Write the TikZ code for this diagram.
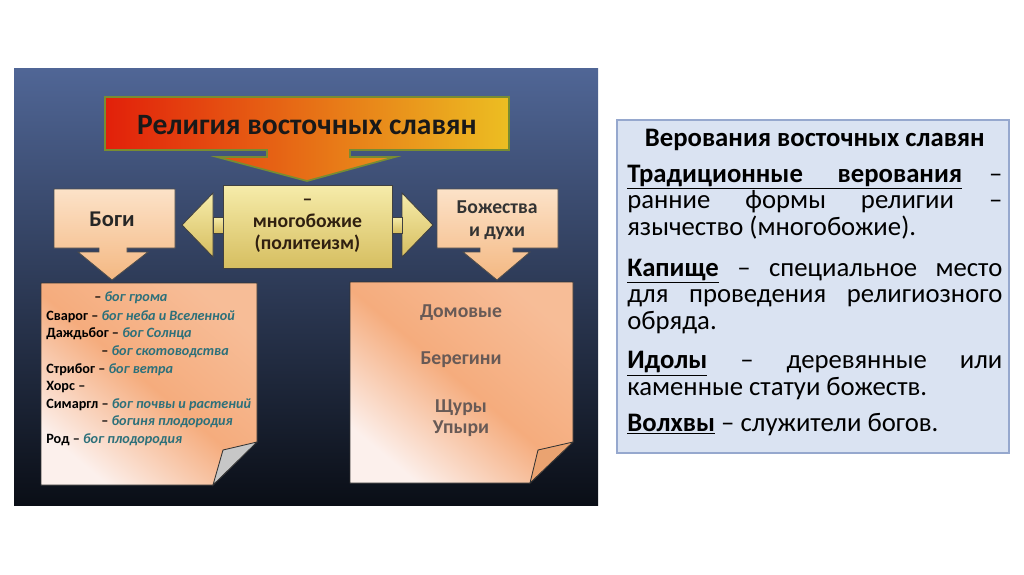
\documentclass[tikz,border=0pt]{standalone}
\usepackage{fontspec}
\setmainfont{Carlito}
\usetikzlibrary{positioning}
\definecolor{panelTop}{RGB}{80,102,150}
\definecolor{panelMid}{RGB}{40,54,88}
\definecolor{panelBot}{RGB}{10,14,22}
\definecolor{titleRed}{RGB}{226,32,10}
\definecolor{titleMid}{RGB}{234,84,14}
\definecolor{titleYel}{RGB}{236,190,34}
\definecolor{titleRim}{RGB}{120,140,50}
\definecolor{peachTop}{RGB}{252,226,200}
\definecolor{peachBot}{RGB}{244,184,130}
\definecolor{goldTop}{RGB}{246,236,170}
\definecolor{goldBot}{RGB}{214,190,96}
\definecolor{noteOra}{RGB}{245,172,125}
\definecolor{noteWht}{RGB}{252,240,236}
\definecolor{godText}{RGB}{44,112,122}
\definecolor{spiritText}{RGB}{104,90,86}
\definecolor{boxFill}{RGB}{218,227,242}
\definecolor{boxRim}{RGB}{150,168,206}
\newcommand{\jline}[1]{\makebox[\linewidth][s]{#1}}
\newcommand{\term}[1]{\underline{\textbf{#1}}}
\tikzset{%
  titlearrow/.style = {left color=titleRed, middle color=titleMid, right color=titleYel,%
                       draw=titleRim, line width=1.2pt},%
  peacharrow/.style = {top color=peachTop, bottom color=peachBot,%
                       draw=black!70, line width=.6pt},%
  goldarrow/.style  = {top color=goldTop, bottom color=goldBot,%
                       draw=black!75, line width=.6pt},%
  note/.style       = {top color=noteOra!80!white, bottom color=noteWht,%
                       middle color=noteOra, shading angle=-40,%
                       draw=black!80, line width=.6pt},%
  god/.style        = {anchor=west, inner sep=0pt, font=\fontsize{10.1}{11}\selectfont\bfseries},%
  spirit/.style     = {text=spiritText, font=\fontsize{14}{14}\selectfont\bfseries}%
}
\begin{document}
\begin{tikzpicture}[x=0.025cm, y=-0.025cm]
  \useasboundingbox (0,0) rectangle (1024,574);
  \fill[white] (0,0) rectangle (1024,574);
  % -------------- SLIDE PICTURE -----------------------------
  \shade[top color=panelTop, middle color=panelMid, bottom color=panelBot]
    (14,68) rectangle (598,505);
  % title with arrow down
  \shade[titlearrow] (105,97) -- (509,97) -- (509,150) -- (350,150) -- (350,157)
    -- (395,157) -- (307,181) -- (217,157) -- (267,157) -- (267,150)
    -- (105,150) -- cycle;
  \node[font=\fontsize{21}{22}\selectfont\bfseries, text=black!90] (title)
    at (307,125) {Религия восточных славян};
  % gods
  \shade[peacharrow] (54,189) -- (175,189) -- (175,248) -- (127,248) -- (127,252)
    -- (148,252) -- (112,280) -- (78,252) -- (99,252) -- (99,248)
    -- (54,248) -- cycle;
  \node[font=\fontsize{16}{17}\selectfont\bfseries, text=black!85] (gods)
    at (112,219) {Боги};
  % spirits
  \shade[peacharrow] (437,189) -- (558,189) -- (558,248) -- (513,248) -- (513,252)
    -- (530,252) -- (497,280) -- (463,252) -- (480,252) -- (480,248)
    -- (437,248) -- cycle;
  \node[font=\fontsize{14}{16.4}\selectfont\bfseries, text=black!80, align=center] (spirits)
    at (497,220) {Божества\\и духи};
  % polytheism, double arrow
  \shade[goldarrow] (213,193) -- (182,225) -- (213,257) -- cycle;
  \shade[goldarrow] (402,193) -- (433,225) -- (402,257) -- cycle;
  \shade[goldarrow] (213,217) rectangle (223,233);
  \shade[goldarrow] (392,217) rectangle (402,233);
  \shade[goldarrow] (223,185) rectangle (392,268);
  \node[font=\fontsize{14}{15.6}\selectfont\bfseries, text=black!75!brown, align=center] (poly)
    at (307.5,226) {–\\многобожие\\(политеизм)};
  % -------------- NOTES -----------------------------
  \shade[note] (41,283) -- (257,283) -- (257,442) -- (213,485) -- (41,485) -- cycle;
  \filldraw[fill=black!22, draw=black!80, line width=.6pt]
    (257,442) -- (223,450) -- (213,485) -- cycle;
  \shade[note] (350,282) -- (573,282) -- (573,442) -- (530,483) -- (350,483) -- cycle;
  \filldraw[fill=noteOra!80!brown, draw=black!80, line width=.6pt]
    (573,442) -- (538,450) -- (530,483) -- cycle;
  % list of gods
  \node[god] (g1) at (94,298)  {–~\textcolor{godText}{\itshape бог грома}};
  \node[god] (g2) at (46,317)  {Сварог –~\textcolor{godText}{\itshape бог неба и Вселенной}};
  \node[god] (g3) at (46,334)  {Даждьбог –~\textcolor{godText}{\itshape бог Солнца}};
  \node[god] (g4) at (101,352) {–~\textcolor{godText}{\itshape бог скотоводства}};
  \node[god] (g5) at (46,370)  {Стрибог –~\textcolor{godText}{\itshape бог ветра}};
  \node[god] (g6) at (46,387)  {Хорс –};
  \node[god] (g7) at (46,405)  {Симаргл –~\textcolor{godText}{\itshape бог почвы и растений}};
  \node[god] (g8) at (101,422) {–~\textcolor{godText}{\itshape богиня плодородия}};
  \node[god] (g9) at (46,440)  {Род –~\textcolor{godText}{\itshape бог плодородия}};
  % spirits list
  \node[spirit] (dom) at (461,313) {Домовые};
  \node[spirit] (ber) at (461,360) {Берегини};
  \node[spirit, align=center, font=\fontsize{14}{15}\selectfont\bfseries] (schur)
    at (461,418) {Щуры\\Упыри};
  % -------------- TEXT BOX -----------------------------
  \draw[fill=boxFill, draw=boxRim, line width=.8pt] (617,120) rectangle (1009,453);
  \node[anchor=north west, inner sep=0pt, text width=266.7pt, align=left,
        font=\fontsize{19}{18.9}\selectfont] (belief) at (627,129) {%
    \spaceskip=0pt \xspaceskip=0pt
    \makebox[\linewidth]{\textbf{Верования восточных славян}}\\[6.5pt]
    \underline{\makebox[.893\linewidth][s]{\textbf{Традиционные верования}}}\hfill–\\
    \jline{ранние формы религии –}\\
    язычество (многобожие).\\[10pt]
    \jline{\term{Капище} – специальное место}\\
    \jline{для проведения религиозного}\\
    обряда.\\[9pt]
    \jline{\term{Идолы} – деревянные или}\\
    каменные статуи божеств.\\[7pt]
    \term{Волхвы} – служители богов.};
\end{tikzpicture}
\end{document}
